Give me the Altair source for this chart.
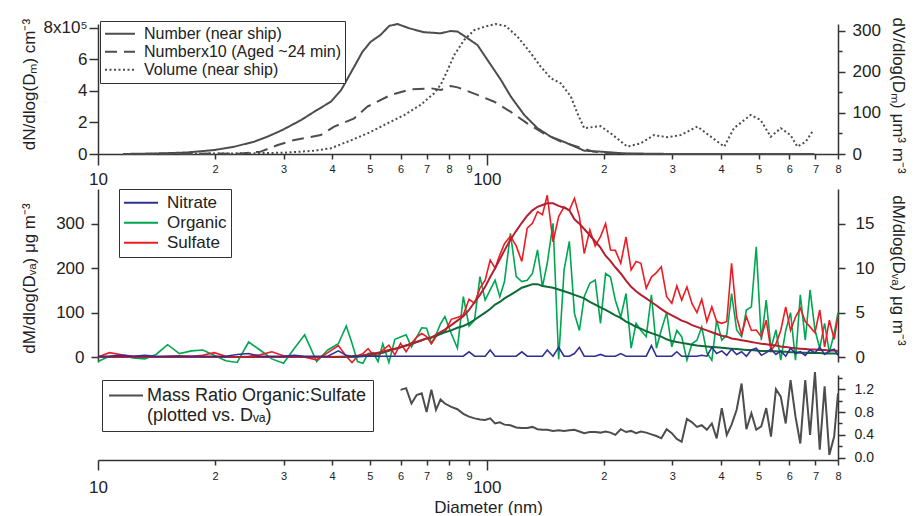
import altair as alt
import pandas as pd

FONT = "Liberation Sans"
AXC = "#333333"
GRAY = "#4d4d4d"
BLUE = "#2e3192"
GREEN = "#00a651"
RED = "#ed1c24"
DKGREEN = "#0d6b36"
DKRED = "#b51f2e"

# ---------------- top panel (mobility diameter) ----------------
num_d = [11.6, 13, 15, 17, 19.9, 22.4, 25.2, 27.3, 29.8, 33.3, 36, 39.7, 42.2, 45.6, 47.9, 50.3,
         53.3, 56.1, 58.9, 63.1, 69, 76.2, 80.7, 84.1, 89.2, 94.6, 100.4, 108.7, 115.3, 124.8,
         135, 146, 161, 178, 196, 225, 303, 400, 550, 695]
num_v = [0, 2000, 5000, 10000, 25000, 46000, 78000, 110000, 152000, 215000, 268000, 331000,
         405000, 553000, 648000, 711000, 754000, 811000, 823000, 796000, 771000, 764000, 779000,
         775000, 733000, 690000, 595000, 469000, 363000, 247000, 163000, 110000, 68000, 21000,
         15000, 4000, 0, 0, 0, 0]

aged_d = [11.6, 15, 20, 23, 26.2, 29, 32, 37.4, 40.5, 45.6, 49.3, 56.6, 63.8, 71.8, 76.2, 80.7,
          84.1, 94.6, 104.5, 115, 127, 140, 155, 171, 188, 210, 250, 400, 695]
aged_v = [0, 1000, 3000, 2000, 15000, 57000, 89000, 120000, 173000, 226000, 300000, 374000,
          409000, 416000, 405000, 431000, 422000, 374000, 331000, 268000, 194000, 131000, 78000,
          46000, 15000, 3000, 0, 0, 0]

vol_d = [11.6, 20, 25, 30, 36, 39.7, 43.8, 49.3, 55.6, 61.3, 67.6, 73.2, 76.2, 79.3, 82.4, 87.4,
         92.8, 98.4, 105.4, 111.9, 119.9, 129.7, 137.6, 146, 155, 164.5, 171, 178, 196, 208.5,
         229.8, 248.7, 269, 291, 315, 348, 377, 408, 432, 477, 506, 537, 570, 604, 629, 661, 687]
vol_v = [0, 1, 2, 3, 8, 14, 30, 50, 75, 95, 120, 148, 170, 205, 241, 278, 302, 310, 317, 312,
         286, 246, 213, 185, 172, 140, 99, 63, 68, 50, 18, 26, 46, 41, 46, 67, 42, 18, 63, 95,
         83, 42, 63, 46, 18, 30, 54]

# ---------------- middle panel (vacuum aerodynamic diameter) ----------------
dva = [10, 10.7, 11.5, 12.3, 13.2, 14.1, 15.1, 16.2, 17.4, 18.6,
       19.9, 21.3, 22.8, 24.4, 26.1, 28, 30, 32, 34, 36.5,
       39, 41.5, 43.5, 45, 46.5, 48, 49.5, 51, 52.5, 54,
       56, 58, 60, 62, 64, 66, 68, 70, 72, 74,
       76, 78, 81, 84, 87, 90, 93, 96, 99, 102,
       105, 108, 111, 115, 119, 123, 127, 131, 135, 139,
       143, 148, 153, 158, 163, 168, 173, 178, 184, 190,
       196, 202, 208, 214, 221, 228, 235, 242, 249, 257,
       265, 273, 281, 290, 299, 308, 317, 327, 337, 347,
       357, 368, 379, 390, 402, 414, 426, 439, 452, 465,
       479, 493, 508, 523, 538, 554, 570, 587, 604, 622,
       640, 659, 678, 698, 718, 739, 760, 782, 800]

nitrate = [2, 2, 4, 2, 4, 2, 2, 2, 2, 2,
           2, 2, 6, 8, 2, 2, 2, 4, 2, 2,
           2, 14, 4, 2, 2, 2, 2, 2, 2, 2,
           2, 2, 2, 2, 2, 2, 2, 2, 2, 2,
           2, 2, 2, 2, 2, 12, 2, 2, 2, 16,
           2, 2, 2, 2, 2, 12, 2, 2, 2, 2,
           16, 2, 22, 2, 2, 8, 22, 2, 2, 2,
           6, 2, 2, 2, 8, 2, 2, 2, 2, 2,
           26, 2, 2, 2, 2, 12, 2, 2, 2, 2,
           4, 2, 22, 8, 14, 4, 18, 6, 12, 2,
           16, 20, 4, 10, 18, 6, 14, 2, 20, 8,
           12, 4, 16, 10, 22, 6, 14, 18, 4]

organic = [-10, 2, 4, -2, -4, 6, 28, 8, 14, 16,
           4, -8, -12, 34, 16, -4, -14, 20, 50, -10,
           16, 30, 70, 31, -10, -14, 8, 10, -10, 30,
           -12, 40, 45, 50, 23, 45, 66, 65, 31, 50,
           75, 91, 53, 20, 136, 70, 83, 181, 128, 151,
           173, 136, 170, 278, 181, 170, 173, 188, 241, 158,
           211, 301, -5, 196, 260, 98, 60, 136, 166, 173,
           76, 188, 180, 128, 90, 143, 20, 76, 60, 46,
           140, 20, 61, 100, 23, 60, 46, -7, 30, 38,
           68, 10, -7, 83, 38, 50, 143, 61, 46, 106,
           113, 248, 38, 128, 20, 61, -7, 60, 100, -7,
           140, 38, 151, 61, 20, 76, 10, 53, 100]

sulfate = [0, 10, 5, 2, 2, 0, 2, 3, 2, 4,
           10, 2, 0, 2, 5, 12, 3, 2, 0, -6,
           10, 26, 2, -12, 2, 8, 19, 5, 2, 16,
           27, 5, 31, 12, 31, 45, 53, 46, 30, 46,
           55, 57, 85, 89, 95, 130, 121, 155, 173, 218,
           200, 230, 255, 272, 250, 215, 290, 301, 327, 320,
           364, 259, 316, 338, 330, 357, 316, 233, 286, 250,
           271, 300, 241, 240, 211, 270, 196, 215, 211, 155,
           180, 190, 203, 136, 121, 160, 128, 158, 120, 100,
           130, 80, 113, 80, 76, 80, 211, 90, 50, 91,
           60, 61, 46, 83, 15, 30, 60, 113, 60, 90,
           110, 80, 68, 55, 106, 23, 83, 40, 91]

organic_fit = [0, 0, 0, 0, 0, 0, 0, 0, 0, 0,
               0, 0, 0, 0, 0, 0, 0, 0, 0, 0,
               0, 0, 0, 0.02, 0.05, 0.1, 0.15, 0.3, 0.4, 0.5,
               0.7, 0.9, 1.1, 1.3, 1.5, 1.7, 1.9, 2.1, 2.2, 2.4,
               2.6, 2.8, 3.0, 3.3, 3.5, 3.8, 4.2, 4.6, 5.0, 5.4,
               5.9, 6.2, 6.6, 7.0, 7.4, 7.8, 8.0, 8.2, 8.2, 8.0,
               7.9, 7.8, 7.6, 7.4, 7.2, 7.0, 6.8, 6.6, 6.2, 5.9,
               5.6, 5.3, 5.0, 4.7, 4.4, 4.0, 3.7, 3.4, 3.2, 2.9,
               2.7, 2.5, 2.3, 2.0, 1.8, 1.7, 1.6, 1.5, 1.4, 1.3,
               1.25, 1.2, 1.15, 1.1, 1.05, 1.0, 0.95, 0.9, 0.85, 0.8,
               0.8, 0.75, 0.7, 0.7, 0.65, 0.65, 0.6, 0.6, 0.55, 0.55,
               0.5, 0.5, 0.45, 0.45, 0.45, 0.4, 0.4, 0.4, 0.4]

sulfate_fit = [0, 0, 0, 0, 0, 0, 0, 0, 0, 0,
               0, 0, 0, 0, 0, 0, 0, 0, 0, 0,
               0.02, 0.05, 0.08, 0.1, 0.15, 0.2, 0.3, 0.4, 0.5, 0.6,
               0.8, 0.95, 1.1, 1.3, 1.5, 1.7, 1.9, 2.1, 2.2, 2.5,
               2.8, 3.1, 3.6, 4.1, 4.6, 5.3, 6.2, 7.0, 7.9, 9.0,
               10.0, 11.0, 12.0, 13.2, 14.2, 15.1, 15.9, 16.5, 16.9, 17.1,
               17.3, 17.3, 17.0, 16.8, 16.5, 15.5, 15.0, 14.4, 13.7, 13.0,
               12.3, 11.4, 10.8, 10.1, 9.4, 8.6, 7.9, 7.4, 7.0, 6.6,
               6.2, 5.8, 5.4, 5.0, 4.7, 4.4, 4.1, 3.9, 3.6, 3.4,
               3.2, 3.0, 2.8, 2.6, 2.4, 2.3, 2.1, 2.0, 1.9, 1.8,
               1.7, 1.6, 1.5, 1.45, 1.35, 1.3, 1.2, 1.15, 1.05, 1.0,
               0.95, 0.9, 0.85, 0.85, 0.8, 0.8, 0.75, 0.75, 0.7]

# ---------------- bottom panel (ratio, from Dva = 60 nm) ----------------
ratio_d = dva[32:]
ratio = [1.19, 1.22, 0.95, 1.10, 1.13, 0.80, 1.19, 0.84, 1.02, 0.95,
         0.89, 0.85, 0.77, 0.72, 0.69, 0.67, 0.66, 0.69, 0.60, 0.62,
         0.58, 0.57, 0.53, 0.52, 0.52, 0.54, 0.50, 0.49, 0.49, 0.47,
         0.48, 0.47, 0.48, 0.49, 0.46, 0.43, 0.45, 0.45, 0.44, 0.46,
         0.44, 0.40, 0.50, 0.45, 0.47, 0.43, 0.46, 0.44, 0.41, 0.38,
         0.34, 0.50, 0.43, 0.33, 0.28, 0.68, 0.62, 0.54, 0.57, 0.49,
         0.60, 0.34, 0.87, 0.40, 0.58, 0.84, 1.30, 0.50, 0.78, 0.49,
         0.55, 0.87, 0.37, 1.20, 1.07, 0.60, 1.36, 0.72, 0.25, 1.36,
         0.40, 1.50, 0.14, 1.25, 0.05, 0.37, 1.13]

S_NUM = "Number (near ship)"
S_AGED = "Numberx10 (Aged ~24 min)"
S_VOL = "Volume (near ship)"
S_RATIO = "Mass Ratio Organic:Sulfate"

num_df = pd.DataFrame({"d": num_d + aged_d, "v": num_v + aged_v,
                       "s": [S_NUM] * len(num_d) + [S_AGED] * len(aged_d)})
vol_df = pd.DataFrame({"d": vol_d, "v": vol_v, "s": [S_VOL] * len(vol_d)})


def sdf(vals, name):
    return pd.DataFrame({"d": dva, "v": vals, "s": [name] * len(dva)})


ratio_df = pd.DataFrame({"d": ratio_d, "v": ratio, "s": [S_RATIO] * len(ratio)})

# ---------------- axes helpers ----------------
MAJ = "datum.value == 10 || datum.value == 100"
XLAB = ("datum.value == 10 ? '10' : datum.value == 100 ? '100' : "
        "datum.value < 100 ? format(datum.value / 10, 'd') : format(datum.value / 100, 'd')")
x_vals = [10, 20, 30, 40, 50, 60, 70, 80, 90, 100, 200, 300, 400, 500, 600, 700, 800]
xscale = alt.Scale(type="log", domain=[10, 800], nice=False)
TFS = 17   # y-axis title font size
YFS = 17   # y-axis label font size


def xaxis(major_tick, major_pad, minor_pad, **kw):
    return alt.Axis(values=x_vals, labelExpr=XLAB, labelFlush=False, labelOverlap=False,
                    orient="bottom", grid=False,
                    tickSize={"condition": {"test": MAJ, "value": major_tick}, "value": 5},
                    labelPadding={"condition": {"test": MAJ, "value": major_pad}, "value": minor_pad},
                    labelFontSize={"condition": {"test": MAJ, "value": 17}, "value": 11},
                    **kw)


def lin(domain):
    return alt.Scale(domain=domain, nice=False, zero=False)


# ---------------- top panel ----------------
top_x = alt.X("d:Q", scale=xscale, axis=xaxis(11, 6, 4, title=None))
dash = alt.StrokeDash(
    "s:N",
    scale=alt.Scale(domain=[S_NUM, S_AGED, S_VOL], range=[[1, 0], [12, 7], [2, 2.5]]),
    legend=alt.Legend(title=None, orient="none", legendX=2, legendY=-3, direction="vertical",
                      symbolType="stroke", symbolSize=900, symbolStrokeWidth=2,
                      symbolStrokeColor=GRAY, labelFontSize=16, labelOffset=8, labelLimit=400,
                      clipHeight=17.5, rowPadding=-2.5, padding=4, strokeColor=AXC,
                      fillColor="white"),
)

top_a = alt.Chart(num_df).mark_line(color=GRAY, strokeWidth=2).encode(
    x=top_x,
    y=alt.Y("v:Q", scale=lin([0, 823000]),
            axis=alt.Axis(values=[0, 200000, 400000, 600000, 800000],
                          labelExpr="datum.value == 800000 ? '8x10\u2075' : format(datum.value / 100000, 'd')",
                          tickSize=9, labelPadding=2, labelFontSize=YFS, orient="left",
                          title="dN/dlog(D\u2098)   cm\u207b\u00b3", titleFontSize=TFS,
                          titleX=-69, titleY=60, titleAngle=-90, titleBaseline="middle",
                          titleAlign="center")),
    strokeDash=dash,
)
top_b = alt.Chart(vol_df).mark_line(color=GRAY, strokeWidth=2).encode(
    x=top_x,
    y=alt.Y("v:Q", scale=lin([0, 317]),
            axis=alt.Axis(values=[0, 50, 100, 150, 200, 250, 300],
                          labelExpr="datum.value % 100 == 0 ? format(datum.value, 'd') : ''",
                          tickSize={"condition": {"test": "datum.value % 100 == 0", "value": 7}, "value": 4},
                          labelPadding=7, labelFontSize=YFS, orient="right",
                          title="dV/dlog(D\u2098)   \u03bcm\u00b3 m\u207b\u00b3", titleFontSize=TFS,
                          titleX=59, titleY=71, titleAngle=90, titleBaseline="middle",
                          titleAlign="center")),
    strokeDash=dash,
)
top = alt.layer(top_a, top_b).resolve_scale(y="independent").properties(width=740, height=130)

# ---------------- middle panel ----------------
mid_x = alt.X("d:Q", scale=xscale, axis=None)
col = alt.Color(
    "s:N",
    scale=alt.Scale(domain=["Nitrate", "Organic", "Sulfate"], range=[BLUE, GREEN, RED]),
    legend=alt.Legend(title=None, orient="none", legendX=21, legendY=0, direction="vertical",
                      symbolType="stroke", symbolSize=1156, symbolStrokeWidth=2,
                      labelFontSize=17, labelOffset=8, labelLimit=300, clipHeight=19.5,
                      rowPadding=-0.8, padding=4, strokeColor=AXC, fillColor="white"),
)
left_y = alt.Y("v:Q", scale=lin([-11, 378]),
               axis=alt.Axis(values=[0, 100, 200, 300], tickSize=7, labelPadding=7,
                             labelFontSize=YFS, orient="left",
                             title="dM/dlog(D\u1d65\u2090)   \u03bcg m\u207b\u00b3", titleFontSize=TFS,
                             titleX=-69, titleY=89, titleAngle=-90, titleBaseline="middle",
                             titleAlign="center"))
fit_y = alt.Y("v:Q", scale=lin([-0.55, 18.9]),
              axis=alt.Axis(values=[0, 5, 10, 15], tickSize=7, labelPadding=10,
                            labelFontSize=YFS, orient="right",
                            title="dM/dlog(D\u1d65\u2090)   \u03bcg m\u207b\u00b3", titleFontSize=TFS,
                            titleX=59, titleY=81, titleAngle=90, titleBaseline="middle",
                            titleAlign="center"))

org_l = alt.Chart(sdf(organic, "Organic")).mark_line(strokeWidth=1.6).encode(x=mid_x, y=left_y, color=col)
sul_l = alt.Chart(sdf(sulfate, "Sulfate")).mark_line(strokeWidth=1.6).encode(x=mid_x, y=left_y, color=col)
raw = alt.layer(org_l, sul_l)

fit_o = alt.Chart(sdf(organic_fit, "Organic fit")).mark_line(color=DKGREEN, strokeWidth=2).encode(x=mid_x, y=fit_y)
fit_s = alt.Chart(sdf(sulfate_fit, "Sulfate fit")).mark_line(color=DKRED, strokeWidth=2).encode(x=mid_x, y=fit_y)
fits = alt.layer(fit_o, fit_s)

nit_l = alt.Chart(sdf(nitrate, "Nitrate")).mark_line(strokeWidth=1.6).encode(
    x=mid_x, y=alt.Y("v:Q", scale=lin([-11, 378]), axis=None), color=col)

mid = alt.layer(raw, fits, nit_l).resolve_scale(y="independent").properties(width=740, height=173)

# ---------------- bottom panel ----------------
bot = alt.Chart(ratio_df).mark_line(strokeWidth=2).encode(
    x=alt.X("d:Q", scale=xscale,
            axis=xaxis(10, 9, 5, title="Diameter (nm)", titleFontSize=17, titleX=390, titleY=47,
                       titleBaseline="middle", titleAlign="center", titleAngle=0)),
    y=alt.Y("v:Q", scale=lin([-0.04, 1.45]),
            axis=alt.Axis(values=[0, 0.2, 0.4, 0.6, 0.8, 1.0, 1.2, 1.4],
                          labelExpr="round(datum.value * 10) % 4 == 0 ? format(datum.value, '.1f') : ''",
                          tickSize={"condition": {"test": "round(datum.value * 10) % 4 == 0", "value": 7}, "value": 4},
                          labelPadding=9, labelFontSize=14, orient="right", title=None)),
    color=alt.Color(
        "s:N", scale=alt.Scale(domain=[S_RATIO], range=[GRAY]),
        legend=alt.Legend(title=None, orient="none", legendX=4, legendY=5, direction="vertical",
                          symbolType="M-2,0L2,0", symbolSize=289, symbolOffset=8.5,
                          symbolStrokeWidth=2, labelFontSize=18, labelOffset=11.5, labelLimit=400,
                          labelBaseline="middle",
                          labelExpr="['Mass Ratio Organic:Sulfate', '(plotted vs. D\u1d65\u2090)']",
                          padding=6, strokeColor=AXC, fillColor="white")),
).properties(width=740, height=85)

inner = alt.vconcat(mid, bot, spacing=13, bounds="flush").resolve_scale(color="independent")

chart = (
    alt.vconcat(top, inner, spacing=35, bounds="flush")
    .resolve_scale(color="independent", strokeDash="independent")
    .properties(padding={"left": 11, "top": 4, "right": 2, "bottom": 0}, background="white")
    .configure(font=FONT)
    .configure_view(stroke=None)
    .configure_axis(domainColor=AXC, domainWidth=1.5, tickColor=AXC, tickWidth=1.5,
                    labelColor="#222222", titleColor="#222222", labelFont=FONT, titleFont=FONT,
                    titleFontWeight="normal", grid=False)
    .configure_legend(labelFont=FONT, labelColor="#222222")
)

chart.save("out.html", embed_options={"renderer": "svg", "actions": False})
